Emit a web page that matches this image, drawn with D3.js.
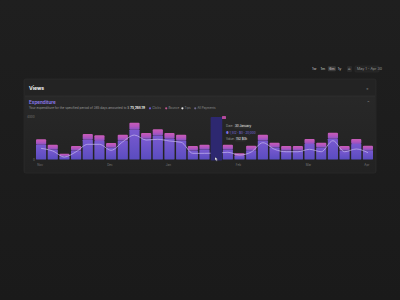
<!DOCTYPE html>
<html>
<head>
<meta charset="utf-8">
<script src="https://cdn.jsdelivr.net/npm/d3@7"></script>
<style>
  html, body { margin: 0; padding: 0; background: #1b1b1b; }
  svg { display: block; font-family: Inter, "Noto Sans", sans-serif; }
</style>
</head>
<body>
<svg id="chart" width="400" height="300"></svg>
<script>
// data
const days = d3.range(29).map((i) => "d" + i)
const clicks = [1400, 950, 300, 850, 1850, 1750, 1100, 1800, 2800, 1950, 2250, 1950, 1800, 850, 950, 1000,
  950, 330, 880, 1800, 1130, 850, 850, 1450, 1130, 1950, 850, 1450, 880]
const bounce = [500, 440, 250, 420, 550, 530, 450, 530, 660, 540, 590, 540, 530, 420, 440, 500,
  440, 250, 420, 530, 450, 420, 420, 480, 450, 570, 420, 480, 420]
const tips = [1050, 800, 235, 730, 1430, 1430, 865, 1670, 2300, 1830, 1900, 1740, 1620, 580, 580, 600,
  680, 420, 700, 1580, 960, 730, 730, 960, 730, 1770, 730, 990, 640]
const monthLabels = ["Nov", "Dec", "Jan", "Feb", "Mar", "Apr"]
const monthIdx = [0, 6, 11, 17, 23, 28]
const yTicks = [0, 4000]
const hoverIdx = 15
const legendNames = ["Clicks", "Bounce", "Tips", "All Payments"]
const legendColors = ["#6a5ad8", "#c2578f", "#e8e8e8", "#6f6a8c"]
const ranges = ["1w", "1m", "6m", "1y"]

const svg = d3.select("#chart")
const defs = svg.append("defs")

const bg = defs.append("linearGradient").attr("id", "bg").attr("x1", 0).attr("x2", 0).attr("y1", 0).attr("y2", 1)
bg.append("stop").attr("offset", "0%").attr("stop-color", "#1f1f1f")
bg.append("stop").attr("offset", "100%").attr("stop-color", "#1a1a1a")

const gPurple = defs.append("linearGradient").attr("id", "gp").attr("x1", 0).attr("x2", 0).attr("y1", 0).attr("y2", 1)
gPurple.append("stop").attr("offset", "0%").attr("stop-color", "#7a5ad0")
gPurple.append("stop").attr("offset", "100%").attr("stop-color", "#5a4cc0")

const gPink = defs.append("linearGradient").attr("id", "gk").attr("x1", 0).attr("x2", 0).attr("y1", 0).attr("y2", 1)
gPink.append("stop").attr("offset", "0%").attr("stop-color", "#c95cb8")
gPink.append("stop").attr("offset", "55%").attr("stop-color", "#b055bd")
gPink.append("stop").attr("offset", "100%").attr("stop-color", "#8652c6")

const panel = defs.append("linearGradient").attr("id", "panel").attr("x1", 0).attr("x2", 0).attr("y1", 0).attr("y2", 1)
panel.append("stop").attr("offset", "0%").attr("stop-color", "#282828")
panel.append("stop").attr("offset", "100%").attr("stop-color", "#222222")

svg.append("rect").attr("width", 400).attr("height", 300).attr("fill", "url(#bg)")

// top controls
const ctrl = svg.append("g").attr("font-size", 3.6)
ranges.forEach((r, i) => {
  const x = 312 + i * 8.6
  if (r === "6m") {
    ctrl.append("rect").attr("x", x - 1.3).attr("y", 66.3).attr("width", 8).attr("height", 5)
      .attr("rx", 1).attr("fill", "#3a3a3a")
  }
  ctrl.append("text").attr("x", x).attr("y", 70).attr("fill", "#cfcfcf").text(r)
})
ctrl.append("rect").attr("x", 347).attr("y", 66).attr("width", 5).attr("height", 6).attr("rx", 1).attr("fill", "#2a2a2a")
ctrl.append("text").attr("x", 348).attr("y", 70.3).attr("fill", "#e0e0e0").attr("font-size", 4).text("⌂")
ctrl.append("rect").attr("x", 355).attr("y", 66).attr("width", 24).attr("height", 6).attr("rx", 1)
  .attr("fill", "#242424").attr("stroke", "#333").attr("stroke-width", 0.4)
ctrl.append("text").attr("x", 357).attr("y", 70).attr("fill", "#9a9a9a").text("May 1 - Apr 30")

// card
svg.append("rect").attr("x", 24).attr("y", 79).attr("width", 352).attr("height", 94).attr("rx", 2)
  .attr("fill", "#232323").attr("stroke", "#333").attr("stroke-width", 0.5)
svg.append("text").attr("x", 29).attr("y", 89.5).attr("fill", "#f2f2f2").attr("font-size", 5)
  .attr("font-weight", 700).text("Views")
svg.append("text").attr("x", 366).attr("y", 89.5).attr("fill", "#9a9a9a").attr("font-size", 4).text("×")
svg.append("rect").attr("x", 25).attr("y", 96).attr("width", 350).attr("height", 76.5).attr("fill", "url(#panel)")
svg.append("line").attr("x1", 25).attr("x2", 375).attr("y1", 96).attr("y2", 96).attr("stroke", "#353535").attr("stroke-width", 0.5)

svg.append("text").attr("x", 29).attr("y", 103.5).attr("fill", "#8f7df2").attr("font-size", 4.6)
  .attr("font-weight", 600).text("Expenditure")
svg.append("text").attr("x", 367).attr("y", 103.5).attr("fill", "#9a9a9a").attr("font-size", 3.5).text("⌃")
const desc = svg.append("text").attr("x", 29).attr("y", 109.3).attr("font-size", 3.1).attr("fill", "#9c9c9c")
desc.append("tspan").text("Your expenditure for the specified period of 365 days amounted to $ ")
desc.append("tspan").attr("fill", "#f0f0f0").attr("font-weight", 700).text("75,268.19")

const leg = svg.append("g").attr("font-size", 3)
let lx = 150
legendNames.forEach((n, i) => {
  leg.append("circle").attr("cx", lx).attr("cy", 108.3).attr("r", 1.1).attr("fill", legendColors[i])
  leg.append("text").attr("x", lx + 2.2).attr("y", 109.3).attr("fill", "#8a8a8a").text(n)
  lx += 6 + n.length * 1.7
})

// plot
const x = d3.scaleBand().domain(days).range([36, 373]).paddingInner(0.13)
const y = d3.scaleLinear().domain([0, 4000]).range([159.5, 117])

svg.append("g").selectAll("text").data(yTicks).join("text")
  .attr("x", (d) => (d === 0 ? 33 : 27)).attr("y", (d) => y(d) + 1)
  .attr("font-size", 3).attr("fill", "#7a7a7a").text((d) => d)

const series = d3.stack().keys(["clicks", "bounce"])(days.map((d, i) => ({ clicks: clicks[i], bounce: bounce[i] })))
const fills = ["url(#gp)", "url(#gk)"]
series.forEach((s, k) => {
  svg.append("g").selectAll("rect").data(s).join("rect")
    .attr("x", (d, i) => x(days[i]))
    .attr("y", (d) => y(d[1]))
    .attr("width", x.bandwidth())
    .attr("height", (d) => y(d[0]) - y(d[1]))
    .attr("rx", k === 1 ? 1 : 0.4)
    .attr("fill", fills[k])
    .attr("opacity", (d, i) => (i === hoverIdx ? 0 : 1))
})

const line = d3.line().x((d, i) => x(days[i]) + x.bandwidth() / 2).y((d) => y(d)).curve(d3.curveMonotoneX)
svg.append("path").datum(tips).attr("d", line).attr("fill", "none")
  .attr("stroke", "#c4b6ee").attr("stroke-width", 0.8).attr("opacity", 0.9)

// hover column
svg.append("rect").attr("x", x(days[hoverIdx]) - 0.5).attr("y", y(4000)).attr("width", x.bandwidth() + 1.5)
  .attr("height", y(0) - y(4000) + 1).attr("rx", 1).attr("fill", "#2d2870")
svg.append("path").attr("d", "M215,157.2 l0,3.2 l0.9,-0.8 l0.9,1.7 l0.6,-0.3 l-0.9,-1.6 l1.2,-0.1 z")
  .attr("fill", "#fff").attr("stroke", "#222").attr("stroke-width", 0.2)

// x labels
svg.append("g").selectAll("text").data(monthLabels).join("text")
  .attr("x", (d, i) => x(days[monthIdx[i]]) + 4).attr("y", 166)
  .attr("text-anchor", "middle").attr("font-size", 3).attr("fill", "#777").text((d) => d)

// tooltip
const tip = svg.append("g").attr("font-size", 3)
tip.append("rect").attr("x", 222).attr("y", 116).attr("width", 4).attr("height", 3).attr("rx", 0.6).attr("fill", "#b44a9a")
tip.append("text").attr("x", 226).attr("y", 127).attr("fill", "#9a9a9a").text("Date:")
tip.append("rect").attr("x", 234).attr("y", 124).attr("width", 17).attr("height", 4.4).attr("rx", 0.8).attr("fill", "#2e2e2e")
tip.append("text").attr("x", 235).attr("y", 127.2).attr("fill", "#f0f0f0").text("30 January")
tip.append("text").attr("x", 226).attr("y", 133.5).attr("fill", "#7f70e0").text("● 1,512 · $0 · 20,000")
tip.append("text").attr("x", 226).attr("y", 140).attr("fill", "#9a9a9a").text("Value:")
tip.append("rect").attr("x", 235).attr("y", 137).attr("width", 11).attr("height", 4.4).attr("rx", 0.8).attr("fill", "#2e2e2e")
tip.append("text").attr("x", 236).attr("y", 140.2).attr("fill", "#f0f0f0").text("152 $0k")
</script>
</body>
</html>
